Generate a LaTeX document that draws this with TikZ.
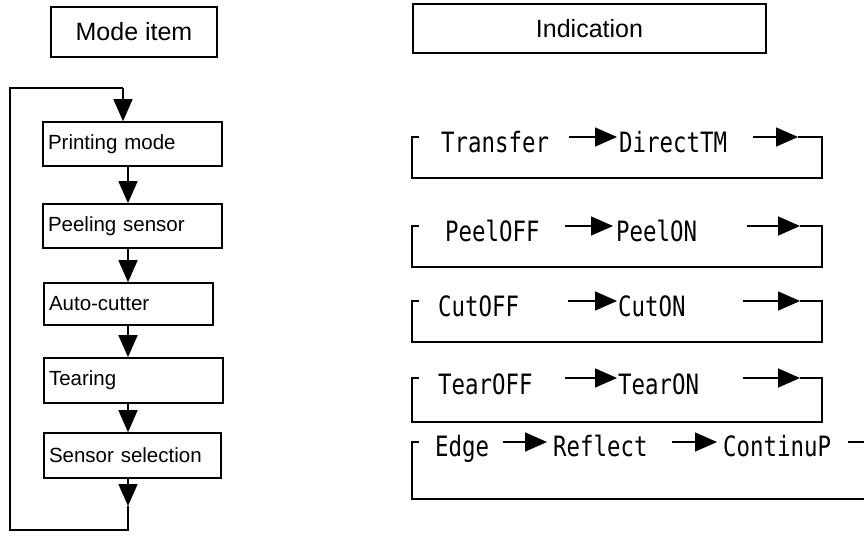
\documentclass[tikz,border=0pt]{standalone}
\usepackage{fontspec}
\usetikzlibrary{arrows.meta}
\newfontfamily\arialfam{Liberation Sans}
\newfontfamily\lcdfam[FakeStretch=0.8]{DejaVu Sans Mono}
\newcommand{\hdrfont}{\arialfam\fontsize{25}{25}\selectfont}
\newcommand{\boxfont}{\arialfam\fontsize{20.5}{20.5}\selectfont}
\newcommand{\lcdfont}{\lcdfam\fontsize{28}{28}\selectfont}
\tikzset{
  ln/.style={line width=1.6pt},
  hdr/.style={draw, line width=1.6pt, inner sep=0pt, font=\hdrfont},
  modebox/.style={draw, line width=1.6pt, inner xsep=5pt, inner ysep=0pt, font=\boxfont, align=left},
  lcd/.style={inner sep=0pt, anchor=base west, font=\lcdfont},
  arr/.style={line width=1.6pt, -{Triangle[length=22pt,width=19pt]}},
}
\begin{document}
\begin{tikzpicture}[x=1pt,y=-1pt]
\useasboundingbox (0,0) rectangle (864,535);
\fill[white] (0,0) rectangle (864,535);

% headers
\node[hdr, minimum width=166pt, minimum height=50pt] (mi) at (134,32) {Mode item};
\node[hdr, minimum width=353pt, minimum height=49pt] (ind) at (589.5,28.5) {Indication};

% mode boxes
\node[modebox, text width=169pt, minimum height=44pt] (pm) at (132.5,144) {Printing mode};
\node[modebox, text width=169pt, minimum height=44pt] (ps) at (132.5,226) {Peeling sensor};
\node[modebox, text width=159pt, minimum height=42pt] (ac) at (128.5,304) {Auto-cutter};
\node[modebox, text width=169pt, minimum height=45pt] (te) at (133.5,380.5) {Tearing};
\node[modebox, text width=167pt, minimum height=45pt] (ss) at (132.5,455.5) {Sensor selection};

\coordinate (ax) at (128,0);
\coordinate (tx) at (123,0);
\coordinate (lt) at (10,88);
\coordinate (tt) at (123,88);
\coordinate (lb) at (10,530);
\coordinate (bb) at (128,530);
\coordinate (bh) at (128,506);

\draw[arr] (pm.south -| ax) -- (ps.north -| ax);
\draw[arr] (ps.south -| ax) -- (ac.north -| ax);
\draw[arr] (ac.south -| ax) -- (te.north -| ax);
\draw[arr] (te.south -| ax) -- (ss.north -| ax);
\draw[arr] (ss.south -| ax) -- (bh);
\draw[ln] (bh) -- (bb) -- (lb) -- (lt) -- (tt);
\draw[arr] (tt) -- (pm.north -| tx);

% row 1
\node[lcd] (r1a) at (441,152) {Transfer};
\node[lcd] (r1b) at (619,152) {DirectTM};
\coordinate (r1s1) at (569,137); \coordinate (r1e1) at (617,137);
\coordinate (r1s2) at (753,137); \coordinate (r1e2) at (798,137);
\draw[ln] (419,137) -- (412,137) -- (412,178) -- (822,178) -- (822,137) -- (r1e2);
\draw[arr] (r1s1) -- (r1e1);
\draw[arr] (r1s2) -- (r1e2);

% row 2
\node[lcd] (r2a) at (445,241) {PeelOFF};
\node[lcd] (r2b) at (616,241) {PeelON};
\coordinate (r2s1) at (565,226); \coordinate (r2e1) at (613,226);
\coordinate (r2s2) at (747,226); \coordinate (r2e2) at (800,226);
\draw[ln] (419,226) -- (412,226) -- (412,267) -- (822,267) -- (822,226) -- (r2e2);
\draw[arr] (r2s1) -- (r2e1);
\draw[arr] (r2s2) -- (r2e2);

% row 3
\node[lcd] (r3a) at (438,316) {CutOFF};
\node[lcd] (r3b) at (618,316) {CutON};
\coordinate (r3s1) at (568,301); \coordinate (r3e1) at (617,301);
\coordinate (r3s2) at (743,301); \coordinate (r3e2) at (800,301);
\draw[ln] (419,301) -- (412,301) -- (412,342) -- (822,342) -- (822,301) -- (r3e2);
\draw[arr] (r3s1) -- (r3e1);
\draw[arr] (r3s2) -- (r3e2);

% row 4
\node[lcd] (r4a) at (438,394) {TearOFF};
\node[lcd] (r4b) at (618,394) {TearON};
\coordinate (r4s1) at (565,378); \coordinate (r4e1) at (617,378);
\coordinate (r4s2) at (743,378); \coordinate (r4e2) at (800,378);
\draw[ln] (419,378) -- (412,378) -- (412,422) -- (822,422) -- (822,378) -- (r4e2);
\draw[arr] (r4s1) -- (r4e1);
\draw[arr] (r4s2) -- (r4e2);

% row 5
\node[lcd] (r5a) at (435,456) {Edge};
\node[lcd] (r5b) at (553,456) {Reflect};
\node[lcd] (r5c) at (723,456) {ContinuP};
\coordinate (r5s1) at (503,442); \coordinate (r5e1) at (547,442);
\coordinate (r5s2) at (672,442); \coordinate (r5e2) at (717,442);
\coordinate (r5s3) at (848,442); \coordinate (r5e3) at (864,442);
\draw[ln] (419,442) -- (412,442) -- (412,499) -- (864,499);
\draw[ln] (r5s3) -- (r5e3);
\draw[arr] (r5s1) -- (r5e1);
\draw[arr] (r5s2) -- (r5e2);
\end{tikzpicture}
\end{document}
